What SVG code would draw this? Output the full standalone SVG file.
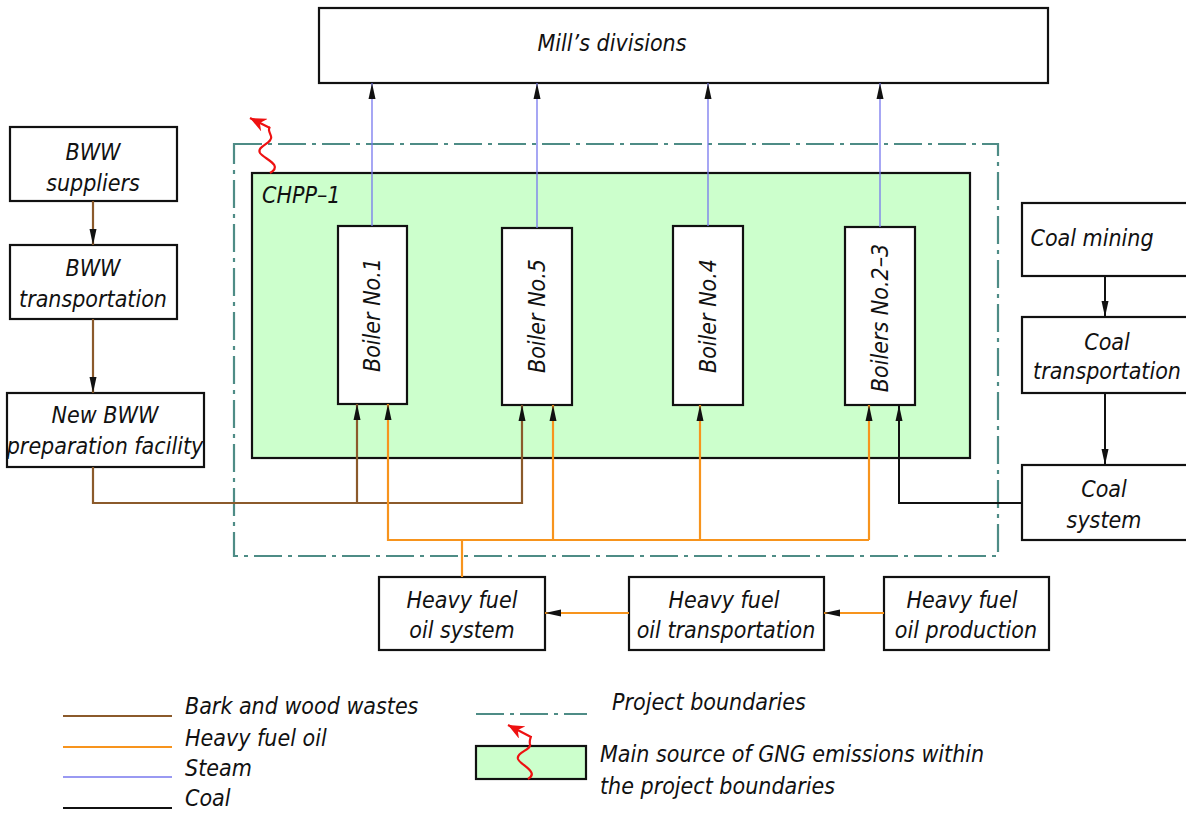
<svg xmlns="http://www.w3.org/2000/svg" width="1186" height="813" viewBox="0 0 1186 813">
<style>
text{font-family:"DejaVu Sans Condensed","Liberation Sans Narrow","Liberation Sans",sans-serif;font-style:italic;font-weight:300;font-size:23px;fill:#111;}
.c{text-anchor:middle;}
.box{fill:#fff;stroke:#111;stroke-width:2.2;}
.green{fill:#ccffcc;stroke:#111;stroke-width:2.2;}
.bound{fill:none;stroke:#4e8c86;stroke-width:2.2;stroke-dasharray:28 6 4 6;}
.brown{fill:none;stroke:#8b5a2b;stroke-width:2.2;}
.orange{fill:none;stroke:#f7941d;stroke-width:2.2;}
.steam{fill:none;stroke:#7777ee;stroke-width:1.3;}
.coal{fill:none;stroke:#111;stroke-width:2;}
.red{fill:none;stroke:#ee1111;stroke-width:2.2;}
</style>
<defs>
<marker id="ar" markerUnits="userSpaceOnUse" markerWidth="17" markerHeight="9" refX="16" refY="4.5" orient="auto">
<path d="M0,1 L16,4.5 L0,8 z" fill="#111"/>
</marker>
<marker id="rar" markerUnits="userSpaceOnUse" markerWidth="18" markerHeight="14" refX="16" refY="7" orient="auto">
<path d="M0,0 L16,7 L0,14 L5,7 z" fill="#ee1111"/>
</marker>
</defs>
<rect width="1186" height="813" fill="#fff"/>

<g id="boundary"><rect class="bound" x="234" y="144" width="764" height="412"/></g>

<g id="chpp">
<rect class="green" x="252" y="173" width="718" height="285"/>
<text x="262" y="203">CHPP–1</text>
</g>

<g id="mills"><rect class="box" x="319" y="8" width="729" height="75"/><text class="c" x="612" y="51">Mill’s divisions</text></g>

<g id="boiler1"><rect class="box" x="338" y="226" width="69" height="178"/><text class="c" transform="translate(380,315) rotate(-90)">Boiler No.1</text></g>
<g id="boiler5"><rect class="box" x="502" y="228" width="70" height="177"/><text class="c" transform="translate(545,316) rotate(-90)">Boiler No.5</text></g>
<g id="boiler4"><rect class="box" x="673" y="226" width="70" height="179"/><text class="c" transform="translate(716,316) rotate(-90)">Boiler No.4</text></g>
<g id="boiler23"><rect class="box" x="845" y="227" width="70" height="178"/><text class="c" transform="translate(888,318) rotate(-90)">Boilers No.2–3</text></g>

<g id="bww-suppliers"><rect class="box" x="10" y="127" width="167" height="74"/><text class="c" x="93" y="160">BWW</text><text class="c" x="93" y="191">suppliers</text></g>
<g id="bww-transport"><rect class="box" x="10" y="245" width="167" height="74"/><text class="c" x="93" y="276">BWW</text><text class="c" x="93" y="307">transportation</text></g>
<g id="bww-prep"><rect class="box" x="7" y="393" width="197" height="74"/><text class="c" x="105" y="423">New BWW</text><text class="c" x="105" y="454">preparation facility</text></g>

<g id="coal-mining"><rect class="box" x="1022" y="203" width="170" height="73"/><text class="c" x="1092" y="246">Coal mining</text></g>
<g id="coal-transport"><rect class="box" x="1022" y="317" width="170" height="76"/><text class="c" x="1107" y="350">Coal</text><text class="c" x="1107" y="379">transportation</text></g>
<g id="coal-system"><rect class="box" x="1022" y="465" width="170" height="75"/><text class="c" x="1104" y="497">Coal</text><text class="c" x="1104" y="528">system</text></g>

<g id="hfo-system"><rect class="box" x="379" y="577" width="166" height="73"/><text class="c" x="462" y="608">Heavy fuel</text><text class="c" x="462" y="638">oil system</text></g>
<g id="hfo-transport"><rect class="box" x="629" y="577" width="195" height="73"/><text class="c" x="724" y="608">Heavy fuel</text><text class="c" x="726" y="638">oil transportation</text></g>
<g id="hfo-production"><rect class="box" x="884" y="577" width="165" height="73"/><text class="c" x="962" y="608">Heavy fuel</text><text class="c" x="966" y="638">oil production</text></g>

<g id="connectors">
<line class="steam" x1="372" y1="226" x2="372" y2="83" marker-end="url(#ar)"/>
<line class="steam" x1="537" y1="228" x2="537" y2="83" marker-end="url(#ar)"/>
<line class="steam" x1="708" y1="226" x2="708" y2="83" marker-end="url(#ar)"/>
<line class="steam" x1="880" y1="227" x2="880" y2="83" marker-end="url(#ar)"/>

<line class="brown" x1="93" y1="201" x2="93" y2="245" marker-end="url(#ar)"/>
<line class="brown" x1="93" y1="319" x2="93" y2="393" marker-end="url(#ar)"/>
<polyline class="brown" points="93,467 93,503 522,503 522,405" marker-end="url(#ar)"/>
<polyline class="brown" points="357,503 357,404" marker-end="url(#ar)"/>

<polyline class="orange" points="869,540 388,540 388,404" marker-end="url(#ar)"/>
<line class="orange" x1="869" y1="540" x2="869" y2="405" marker-end="url(#ar)"/>
<line class="orange" x1="553" y1="540" x2="553" y2="405" marker-end="url(#ar)"/>
<line class="orange" x1="700" y1="540" x2="700" y2="405" marker-end="url(#ar)"/>
<line class="orange" x1="462" y1="577" x2="462" y2="540"/>
<line class="orange" x1="629" y1="613" x2="545" y2="613" marker-end="url(#ar)"/>
<line class="orange" x1="884" y1="613" x2="824" y2="613" marker-end="url(#ar)"/>

<line class="coal" x1="1105" y1="276" x2="1105" y2="317" marker-end="url(#ar)"/>
<line class="coal" x1="1105" y1="393" x2="1105" y2="465" marker-end="url(#ar)"/>
<polyline class="coal" points="1022,503 899,503 899,405" marker-end="url(#ar)"/>

<path class="red" d="M270,173 C284,165 264,159 260,153 C256,146 274,143 271,136 C269,131 268,129 270,127"/>
<path class="red" d="M270,128 L250,118" marker-end="url(#rar)"/>
</g>

<g id="legend">
<line class="brown" x1="63" y1="716" x2="172" y2="716"/>
<line class="orange" x1="63" y1="747" x2="172" y2="747"/>
<line class="steam" x1="63" y1="777" x2="172" y2="777"/>
<line class="coal" x1="63" y1="808" x2="172" y2="808"/>
<text x="185" y="714">Bark and wood wastes</text>
<text x="185" y="746">Heavy fuel oil</text>
<text x="185" y="776">Steam</text>
<text x="185" y="806">Coal</text>
<line class="bound" x1="476" y1="714" x2="587" y2="714"/>
<text x="612" y="710">Project boundaries</text>
<rect class="green" x="476" y="746" width="110" height="33"/>
<path class="red" d="M528,779 C540,772 520,765 518,759 C516,752 532,750 530,744 C529,740 531,738 531,736"/>
<path class="red" d="M531,737 L508,725" marker-end="url(#rar)"/>
<text x="600" y="762">Main source of GNG emissions within</text>
<text x="600" y="794">the project boundaries</text>
</g>
</svg>
